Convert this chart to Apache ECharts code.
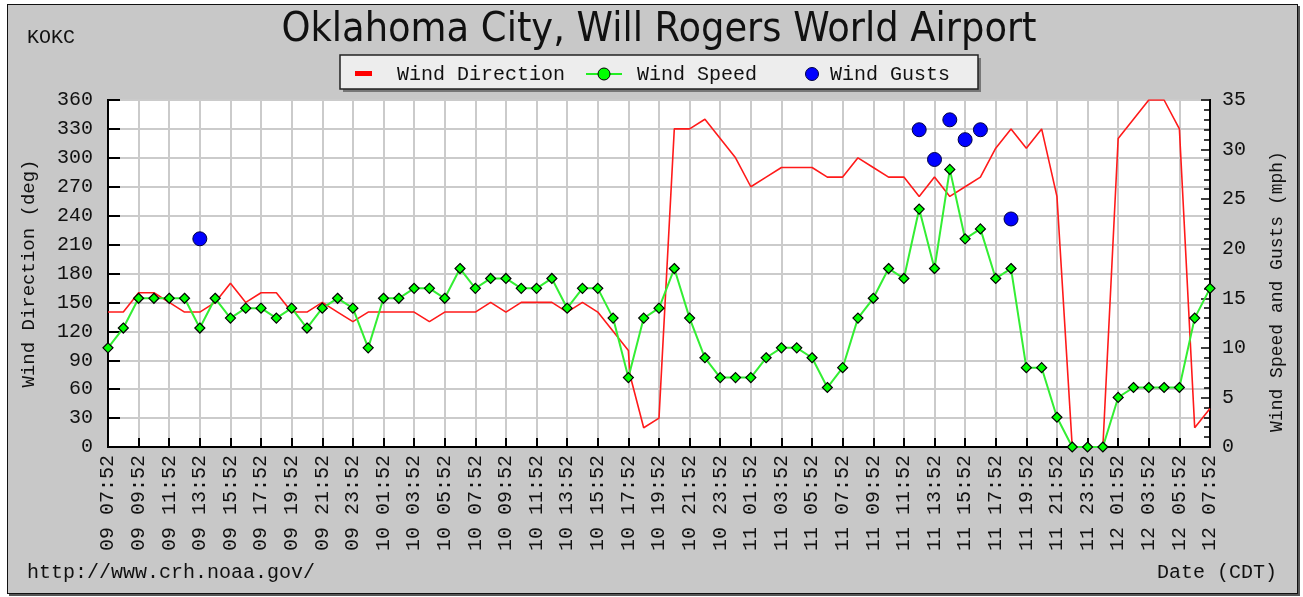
<!DOCTYPE html>
<html>
<head>
<meta charset="utf-8">
<script src="https://cdn.jsdelivr.net/npm/echarts@6/dist/echarts.min.js"></script>
<style>
html,body{margin:0;padding:0;background:#ffffff;}
#frame{position:absolute;left:7px;top:4px;width:1289px;height:588px;background:#c8c8c8;border:1.5px solid #111;box-shadow:2px 2px 0 #555;}
#chart{position:absolute;left:0;top:0;width:1303px;height:597px;}
</style>
</head>
<body>
<div id="frame"></div>
<div id="chart"></div>
<script>
// X tick labels (every 2 hours, starting 09 07:52)
const timeLabels = [
 '09 07:52','09 09:52','09 11:52','09 13:52','09 15:52','09 17:52','09 19:52','09 21:52','09 23:52',
 '10 01:52','10 03:52','10 05:52','10 07:52','10 09:52','10 11:52','10 13:52','10 15:52','10 17:52','10 19:52','10 21:52','10 23:52',
 '11 01:52','11 03:52','11 05:52','11 07:52','11 09:52','11 11:52','11 13:52','11 15:52','11 17:52','11 19:52','11 21:52','11 23:52',
 '12 01:52','12 03:52','12 05:52','12 07:52'
];
// hourly observations, index = hours since 09 07:52
const windDirection = [
 140,140,160,160,150,140,140,150,170,150,160,160,140,140,150,140,130,
 140,140,140,140,130,140,140,140,150,140,150,150,150,140,150,140,120,100,20,30,330,330,340,320,
 300,270,280,290,290,290,280,280,300,290,280,280,260,280,260,270,280,310,330,310,330,260,0,0,
 0,320,340,360,360,330,20,40
];
// extra special observation just after 10 17:52
const extraDirHour = [34.1];
const extraDirValue = [75];
const windSpeed = [
 10,12,15,15,15,15,12,15,13,14,14,13,14,12,14,15,14,
 10,15,15,16,16,15,18,16,17,17,16,16,17,14,16,16,13,7,13,14,18,13,9,7,
 7,7,9,10,10,9,6,8,13,15,18,17,24,18,28,21,22,17,18,8,8,3,0,0,
 0,5,6,6,6,6,13,16
];
const gustHours = [6,53,54,55,56,57,59];
const gustValues = [21,32,29,33,31,32,23];

const dirData = [];
windDirection.forEach((v,i)=>{
  dirData.push([i,v]);
  extraDirHour.forEach((h,k)=>{ if (h>i && h<i+1) dirData.push([h, extraDirValue[k]]); });
});
const speedData = windSpeed.map((v,i)=>[i,v]);
const gustData = gustHours.map((h,i)=>[h,gustValues[i]]);

const MONO = '"Liberation Mono", "DejaVu Sans Mono", monospace';
const chart = echarts.init(document.getElementById('chart'), null, {renderer:'canvas'});
chart.setOption({
  backgroundColor: 'transparent',
  animation: false,
  grid: {left:108, top:100, right:93, bottom:150, show:true, backgroundColor:'#ffffff', borderColor:'#000', borderWidth:2},
  xAxis: {
    type:'value', min:0, max:72, interval:2,
    axisLine:{show:true, lineStyle:{color:'#000', width:2}},
    axisTick:{show:true, inside:true, length:9, lineStyle:{color:'#000', width:2}},
    splitLine:{show:true, lineStyle:{color:'#cbcbcb', width:2}},
    axisLabel:{rotate:90, margin:8, fontFamily:MONO, fontSize:20, color:'#111',
      formatter:(v)=>timeLabels[Math.round(v/2)] || ''}
  },
  yAxis: [
    {type:'value', min:0, max:360, interval:30, position:'left',
     name:'Wind Direction (deg)', nameLocation:'middle', nameGap:70, nameRotate:90,
     nameTextStyle:{fontFamily:MONO, fontSize:19, color:'#111'},
     axisLine:{show:true, lineStyle:{color:'#000', width:2}},
     axisTick:{show:true, inside:true, length:12, lineStyle:{color:'#000', width:2}},
     splitLine:{show:true, lineStyle:{color:'#cbcbcb', width:2}},
     axisLabel:{margin:15, fontFamily:MONO, fontSize:20, color:'#111'}},
    {type:'value', min:0, max:35, interval:5, position:'right',
     name:'Wind Speed and Gusts (mph)', nameLocation:'middle', nameGap:58, nameRotate:90,
     nameTextStyle:{fontFamily:MONO, fontSize:18, color:'#111', padding:[0,36,0,0]},
     axisLine:{show:true, lineStyle:{color:'#000', width:2}},
     axisTick:{show:true, inside:true, length:9, lineStyle:{color:'#000', width:1.5}},
     minorTick:{show:true, splitNumber:5, length:6, lineStyle:{color:'#000', width:1.5}},
     splitLine:{show:false},
     axisLabel:{margin:12, fontFamily:MONO, fontSize:20, color:'#111'}}
  ],
  series: [
    {name:'Wind Direction', type:'line', yAxisIndex:0, data:dirData, showSymbol:false, symbol:'none',
     lineStyle:{color:'#ff1a1a', width:1.6}, itemStyle:{color:'#ff0000'}, z:2},
    {name:'Wind Speed', type:'line', yAxisIndex:1, data:speedData, symbol:'diamond', symbolSize:10,
     lineStyle:{color:'#33ee33', width:2}, itemStyle:{color:'#00ff00', borderColor:'#000', borderWidth:1.2}, z:3},
    {name:'Wind Gusts', type:'scatter', yAxisIndex:1, data:gustData, symbol:'circle', symbolSize:14,
     itemStyle:{color:'#0000ff', borderColor:'#000044', borderWidth:1, opacity:1}, z:4}
  ],
  graphic: [
    {type:'text', x:659, y:30, style:{text:'Oklahoma City, Will Rogers World Airport', font:'41px "Liberation Sans Narrow", "DejaVu Sans Condensed", "Liberation Sans", sans-serif', fill:'#111', align:'center', verticalAlign:'middle'}},
    {type:'text', x:27, y:38, style:{text:'KOKC', font:'20px '+MONO, fill:'#111', align:'left', verticalAlign:'middle'}},
    {type:'text', x:27, y:573, style:{text:'http://www.crh.noaa.gov/', font:'20px '+MONO, fill:'#111', align:'left', verticalAlign:'middle'}},
    {type:'text', x:1277, y:573, style:{text:'Date (CDT)', font:'20px '+MONO, fill:'#111', align:'right', verticalAlign:'middle'}},
    // legend box
    {type:'rect', shape:{x:343, y:58, width:638, height:34}, style:{fill:'#777'}, z:10},
    {type:'rect', shape:{x:340, y:55, width:638, height:34}, style:{fill:'#ededed', stroke:'#222', lineWidth:1.5}, z:11},
    {type:'rect', shape:{x:355, y:71, width:17, height:5}, style:{fill:'#ff0000'}, z:12},
    {type:'text', x:397, y:75, z:12, style:{text:'Wind Direction', font:'20px '+MONO, fill:'#111', align:'left', verticalAlign:'middle'}},
    {type:'line', shape:{x1:586, y1:74, x2:622, y2:74}, style:{stroke:'#22ee22', lineWidth:2}, z:12},
    {type:'circle', shape:{cx:604, cy:74, r:6}, style:{fill:'#00ff00', stroke:'#000', lineWidth:1}, z:13},
    {type:'text', x:637, y:75, z:12, style:{text:'Wind Speed', font:'20px '+MONO, fill:'#111', align:'left', verticalAlign:'middle'}},
    {type:'circle', shape:{cx:812, cy:74, r:6.5}, style:{fill:'#0000ff', stroke:'#000044', lineWidth:1}, z:12},
    {type:'text', x:830, y:75, z:12, style:{text:'Wind Gusts', font:'20px '+MONO, fill:'#111', align:'left', verticalAlign:'middle'}}
  ]
});
</script>
</body>
</html>
